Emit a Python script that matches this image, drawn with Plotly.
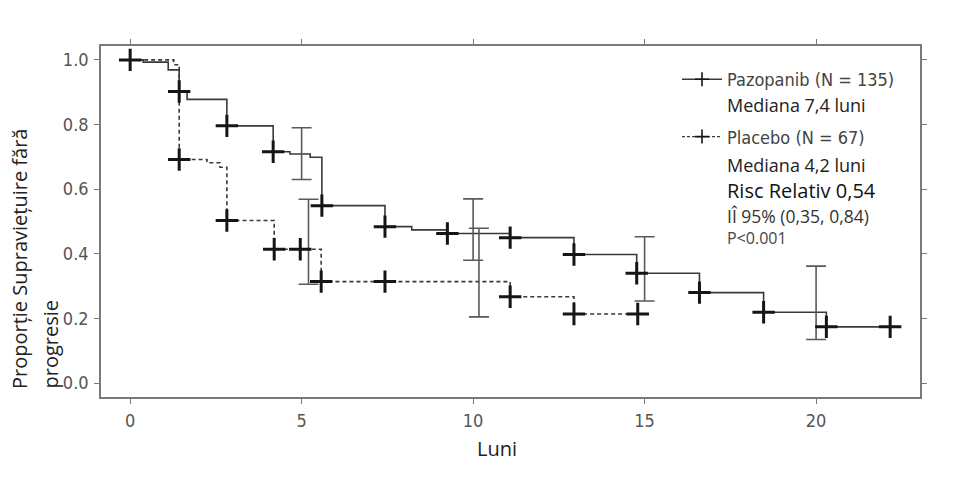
import plotly.graph_objects as go

# ---- data ----
paz_t = [0, 0.38, 1.11, 1.43, 1.66, 2.82, 4.17, 4.66, 5.25, 5.59, 7.43, 8.21, 9.25, 11.08, 12.94, 14.77, 16.6, 18.47, 20.3, 22.16]
paz_s = [1.0, 0.993, 0.969, 0.902, 0.878, 0.796, 0.716, 0.709, 0.699, 0.549, 0.484, 0.474, 0.463, 0.450, 0.398, 0.340, 0.280, 0.219, 0.174, 0.174]
paz_mark_t = [0, 1.43, 2.82, 4.17, 5.59, 7.43, 9.25, 11.08, 12.94, 14.77, 16.6, 18.47, 20.3, 22.16]
paz_mark_s = [1.0, 0.902, 0.796, 0.716, 0.549, 0.484, 0.463, 0.450, 0.398, 0.340, 0.280, 0.219, 0.174, 0.174]

plc_t = [0, 1.27, 1.43, 2.24, 2.62, 2.82, 4.2, 5.57, 11.08, 12.94, 14.8]
plc_s = [1.0, 0.985, 0.692, 0.682, 0.668, 0.503, 0.414, 0.314, 0.267, 0.214, 0.214]
plc_mark_t = [1.43, 2.82, 4.2, 4.96, 5.57, 7.43, 11.08, 12.94, 14.8]
plc_mark_s = [0.692, 0.503, 0.414, 0.414, 0.314, 0.314, 0.267, 0.214, 0.214]

paz_ci_t = [5.0, 10.0, 15.0, 20.0]
paz_ci_est = [0.71, 0.47, 0.34, 0.22]
paz_ci_lo = [0.63, 0.38, 0.254, 0.135]
paz_ci_hi = [0.79, 0.57, 0.453, 0.362]

plc_ci_t = [5.2, 10.17]
plc_ci_est = [0.414, 0.314]
plc_ci_lo = [0.306, 0.205]
plc_ci_hi = [0.569, 0.479]

x_ticks = [0, 5, 10, 15, 20]
y_ticks = [0.0, 0.2, 0.4, 0.6, 0.8, 1.0]
y_ticklabels = ["0.0", "0.2", "0.4", "0.6", "0.8", "1.0"]

legend_names = ["Pazopanib (N = 135)", "Placebo (N = 67)"]
note_texts = ["Mediana 7,4 luni", "Mediana 4,2 luni", "Risc Relativ 0,54", "IÎ 95% (0,35, 0,84)", "P<0.001"]

NARROW = "Liberation Sans Narrow, Arial Narrow, DejaVu Sans Condensed, Liberation Sans, Arial, sans-serif"
SANS = "Open Sans, Noto Sans, sans-serif"
LINE_C = "#3a3a3a"
MARK_C = "#151515"
ERR_C = "#5a5a5a"

fig = go.Figure()

# step curves
fig.add_trace(go.Scatter(x=paz_t, y=paz_s, mode="lines", line=dict(shape="hv", color=LINE_C, width=1.6),
                         showlegend=False, hoverinfo="skip"))
fig.add_trace(go.Scatter(x=plc_t, y=plc_s, mode="lines", line=dict(shape="hv", color=LINE_C, width=1.6, dash="4px,3px"),
                         showlegend=False, hoverinfo="skip"))

# CI error bars
def add_ci(t, est, lo, hi):
    fig.add_trace(go.Scatter(
        x=t, y=est, mode="markers", marker=dict(size=1, color="rgba(0,0,0,0)"),
        error_y=dict(type="data", symmetric=False,
                     array=[h - e for h, e in zip(hi, est)],
                     arrayminus=[e - l for e, l in zip(est, lo)],
                     color=ERR_C, thickness=1.6, width=10),
        showlegend=False, hoverinfo="skip"))

add_ci(paz_ci_t, paz_ci_est, paz_ci_lo, paz_ci_hi)
add_ci(plc_ci_t, plc_ci_est, plc_ci_lo, plc_ci_hi)

# censor / event markers
for t, s in [(paz_mark_t, paz_mark_s), (plc_mark_t, plc_mark_s)]:
    fig.add_trace(go.Scatter(x=t, y=s, mode="markers",
                             marker=dict(symbol="cross-thin", size=16, line=dict(width=3, color=MARK_C)),
                             showlegend=False, hoverinfo="skip"))

# legend-only samples
for name, dash, grp in [(legend_names[0], "solid", "a"), (legend_names[1], "3px,2px", "b")]:
    fig.add_trace(go.Scatter(x=[None], y=[None], mode="lines+markers", name=name, legendgroup=grp,
                             line=dict(color=LINE_C, width=1.4, dash=dash),
                             marker=dict(symbol="cross-thin", size=10, line=dict(width=1.6, color=MARK_C))))

L, T, R, B = 101, 46, 35, 81
W, H = 955, 478
PW, PH = W - L - R, H - T - B

def px(x):
    return (x - L) / PW

def py(y):
    return (T + PH - y) / PH

annotations = []
note_y = [105, 165, 190, 216, 238]
note_size = [18, 18, 20, 17.5, 16]
note_col = ["#222222", "#222222", "#111111", "#333333", "#444444"]
for txt, yy, sz, col in zip(note_texts, note_y, note_size, note_col):
    annotations.append(dict(text=txt, x=px(726), y=py(yy), xref="paper", yref="paper",
                            xanchor="left", yanchor="middle", showarrow=False, borderpad=0,
                            font=dict(family=SANS, size=sz, color=col)))

# axis titles
annotations.append(dict(text="Luni", x=px(497), y=py(448), xref="paper", yref="paper",
                        xanchor="center", yanchor="middle", showarrow=False,
                        font=dict(family=SANS, size=20, color="#222222")))
annotations.append(dict(text="Proporție Supraviețuire fără", x=px(19), y=py(391), xref="paper", yref="paper",
                        xanchor="center", yanchor="bottom", showarrow=False, textangle=-90,
                        font=dict(family=SANS, size=20, color="#222222")))
annotations.append(dict(text="progresie", x=px(50), y=py(391), xref="paper", yref="paper",
                        xanchor="center", yanchor="bottom", showarrow=False, textangle=-90,
                        font=dict(family=SANS, size=20, color="#222222")))

axis_common = dict(showline=True, linecolor="#7a7a7a", linewidth=1.6, mirror="ticks",
                   ticks="outside", ticklen=5, tickwidth=1.4, tickcolor="#7a7a7a",
                   showgrid=False, zeroline=False,
                   tickfont=dict(family=NARROW, size=18, color="#555555"))

fig.update_layout(
    width=W, height=H,
    margin=dict(l=L, r=R, t=T, b=B),
    paper_bgcolor="white", plot_bgcolor="white",
    xaxis=dict(range=[-0.85, 23.03], tickvals=x_ticks, ticklabelstandoff=2, **axis_common),
    yaxis=dict(range=[-0.043, 1.043], tickvals=y_ticks, ticktext=y_ticklabels, ticklabelstandoff=2, **axis_common),
    showlegend=True,
    legend=dict(x=px(677), y=py(61), xanchor="left", yanchor="top", bgcolor="rgba(0,0,0,0)",
                font=dict(family=NARROW, size=18, color="#444444"), tracegroupgap=31,
                itemwidth=40),
    annotations=annotations,
)

fig.write_html("out.html")
